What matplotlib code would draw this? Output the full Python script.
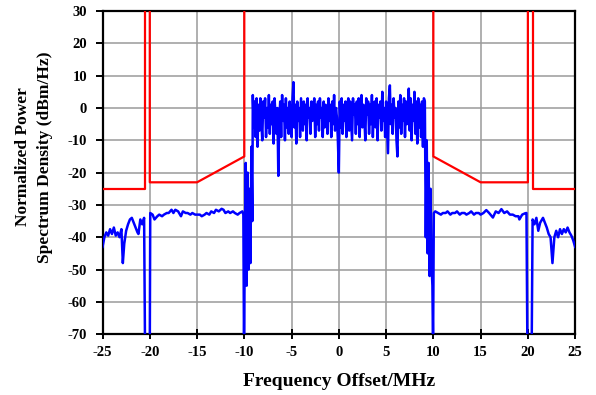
import numpy as np
import matplotlib
matplotlib.use("Agg")
import matplotlib.pyplot as plt

plt.rcParams['font.family'] = ['Liberation Serif', 'DejaVu Serif']
plt.rcParams['font.weight'] = 'bold'
plt.rcParams['axes.unicode_minus'] = False

# spectrum emission mask (dBm/Hz), upper part runs off the top of the axes
mask_left_f = [-25, -20.5, -20.5]
mask_left_v = [-25, -25, 40]
mask_mid_left_f = [-20, -20, -15, -10, -10]
mask_mid_left_v = [40, -23, -23, -15, 40]
mask_mid_right_f = [10, 10, 15, 20, 20]
mask_mid_right_v = [40, -15, -23, -23, 40]
mask_right_f = [20.5, 20.5, 25]
mask_right_v = [40, -25, -25]

# measured PSD, outer band left of -20 MHz
outer_left_f = [-25, -24.8, -24.6, -24.4, -24.2, -24.0, -23.8, -23.6, -23.4, -23.2,
                -23.0, -22.85, -22.7, -22.5, -22.3, -22.1, -21.9, -21.7, -21.5, -21.3,
                -21.2, -21.0, -20.8, -20.6, -20.5, -20.0]
outer_left_v = [-43, -40, -38.5, -39.5, -37.5, -39, -37, -39.5, -38.5, -40,
                -37.5, -48, -42, -38, -36, -34.5, -34, -35.5, -37, -38.5,
                -39, -34.5, -36, -34, -75, -75]

# adjacent band -20 .. -10 MHz
shoulder_left_f = [-19.95, -19.7, -19.5, -19.2, -19.0, -18.7, -18.5, -18.2, -18.0, -17.7,
                   -17.5, -17.3, -17.0, -16.7, -16.5, -16.2, -16.0, -15.7, -15.5, -15.2,
                   -15.0, -14.7, -14.5, -14.2, -14.0, -13.7, -13.5, -13.2, -13.0, -12.7,
                   -12.4, -12.2, -12.0, -11.7, -11.5, -11.2, -11.0, -10.7, -10.5, -10.2,
                   -10.1, -10.03]
shoulder_left_v = [-32.5, -33, -34.5, -33.5, -33, -33.5, -33, -32.5, -32.5, -31.5,
                   -32.5, -31.5, -32, -33.5, -32, -32.5, -32.5, -33, -32.5, -33,
                   -33, -33, -33.5, -33, -32.5, -33, -32, -32.5, -31.5, -32,
                   -31.2, -31.5, -32.5, -32, -32.5, -32, -32.5, -33, -32.5, -32,
                   -33, -75]

# band edge roll-off, lower side
edge_left_f = [-9.95, -9.85, -9.75, -9.65, -9.55, -9.45, -9.35, -9.25, -9.15]
edge_left_v = [-45, -17, -55, -20, -50, -25, -48, -12, -35]

# occupied band, 0.1 MHz bins from -9.1 to 9.1 MHz
inband_v = [
    4, -6, 2, -9, 3, -12, 1, -7, 3, -4,
    -10, 2, -3, 3, -9, 0, -6, 4, -8, 1,
    -5, 2, -11, 3, -2, -8, 0, -21, -3, 2,
    -9, 4, -4, 1, -10, 3, -6, 0, -8, 2,
    -3, -9, 3, 8, -6, 1, -11, 2, -4, 0,
    -9, 3, -2, -7, 2, -5, 1, -10, 3, -3,
    0, -8, 2, -4, -1, 3, -9, 1, -5, 2,
    -7, 3, -3, 0, -9, 2, -6, 1, -2, -8,
    3, -4, 1, -9, 2, -5, 4, -7, 0, -3,
    -10, -20, 2, -6, 3, -8, 1, -4, 2, -9,
    0, 3, -7, 2, -4, -10, 3, -2, 1, -8,
    2, -5, 3, -9, 0, 4, -6, 1, -3, -10,
    3, -2, 2, -8, 1, -5, 4, -9, 0, 2,
    -6, 3, -10, 1, -3, 2, -7, 5, -4, 0,
    -9, 2, -6, -14, 3, 7, -5, 1, -8, 3,
    -3, 0, -10, -15, 2, -6, 4, -8, 1, -4,
    3, -9, 2, -5, 0, 6, -7, 3, -10, 1,
    -4, 5, -8, 2, -11, 3, -6, 1, -9, 2,
    -12, 3, 2,
]
inband_f = np.round(np.linspace(-9.1, 9.1, len(inband_v)), 2)

# band edge roll-off, upper side
edge_right_f = [9.2, 9.3, 9.4, 9.5, 9.6, 9.7, 9.8, 9.9, 9.97]
edge_right_v = [-40, -10, -45, -17, -52, -25, -48, -55, -75]

# adjacent band 10 .. 20 MHz
shoulder_right_f = [10.05, 10.2, 10.5, 10.8, 11.0, 11.3, 11.5, 11.8, 12.0, 12.3,
                    12.5, 12.8, 13.0, 13.3, 13.5, 13.8, 14.0, 14.3, 14.5, 14.8,
                    15.0, 15.3, 15.6, 15.9, 16.3, 16.6, 16.9, 17.2, 17.5, 17.8,
                    18.1, 18.4, 18.7, 19.0, 19.1, 19.4, 19.7, 19.85, 19.95]
shoulder_right_v = [-32.5, -32, -32.5, -33, -32.5, -32.5, -32, -33, -32.5, -32.5,
                    -32, -33, -32.5, -32.5, -33, -32.5, -32, -33, -32.5, -32.5,
                    -33, -32.5, -31.6, -32.5, -33.9, -32, -32.5, -31.3, -32.5, -32,
                    -33, -33, -33.5, -33.5, -34.5, -33, -32.6, -32.5, -75]

# outer band right of 20 MHz
outer_right_f = [20.4, 20.5, 20.7, 20.9, 21.1, 21.3, 21.6, 21.8, 22.0, 22.2,
                 22.4, 22.6, 22.8, 23.0, 23.2, 23.4, 23.6, 23.8, 24.0, 24.2,
                 24.4, 24.6, 24.8, 25.0]
outer_right_v = [-75, -34.5, -36, -34, -38, -35.5, -34, -35.5, -37, -39,
                 -40, -48, -40, -38, -40, -37.5, -39, -37.5, -38.5, -37,
                 -38.5, -39.5, -41, -43]

psd_f = np.concatenate([outer_left_f, shoulder_left_f, edge_left_f, inband_f,
                        edge_right_f, shoulder_right_f, outer_right_f])
psd_v = np.concatenate([outer_left_v, shoulder_left_v, edge_left_v, inband_v,
                        edge_right_v, shoulder_right_v, outer_right_v])

fig = plt.figure(figsize=(5.96, 3.95), dpi=100)
ax = fig.add_axes([0.172, 0.154, 0.793, 0.818])

ax.plot(psd_f, psd_v, color='#0000ff', lw=1.8, zorder=3)
for mf, mv in [(mask_left_f, mask_left_v), (mask_mid_left_f, mask_mid_left_v),
               (mask_mid_right_f, mask_mid_right_v), (mask_right_f, mask_right_v)]:
    ax.plot(mf, mv, color='#ff0000', lw=1.6, zorder=4)

ax.set_xlim(-25, 25)
ax.set_ylim(-70, 30)
ax.set_xticks(np.arange(-25, 26, 5))
ax.set_yticks(np.arange(-70, 31, 10))
ax.grid(True, color='#9a9a9a', lw=1.1)
ax.set_axisbelow(True)

for s in ax.spines.values():
    s.set_linewidth(1.6)
    s.set_color('black')

ax.tick_params(axis='x', direction='inout', length=7, width=1.4, labelsize=10.5, pad=5)
ax.tick_params(axis='y', direction='out', length=5, width=1.4, labelsize=10.5, pad=6)
for lab in ax.get_xticklabels() + ax.get_yticklabels():
    lab.set_fontweight('bold')

ax.set_xlabel('Frequency Offset/MHz', fontsize=14, fontweight='bold', labelpad=10)
ax.set_ylabel('Normalized Power\nSpectrum Density (dBm/Hz)', fontsize=12.5,
              fontweight='bold', linespacing=1.5)
ax.yaxis.set_label_coords(-0.105, 0.548)

fig.savefig('out.png', dpi=100)
